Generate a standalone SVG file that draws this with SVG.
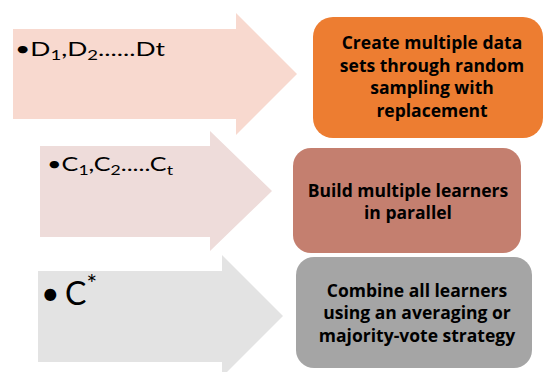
<svg xmlns="http://www.w3.org/2000/svg" width="544" height="372" viewBox="0 0 544 372">
<style>
.lbl{font-family:"Open Sans","Liberation Sans",sans-serif;font-weight:bold;font-size:17.5px;fill:#000;text-anchor:middle}
.bul{font-family:Lato,"Open Sans","Liberation Sans",sans-serif;fill:#000}
</style>
<rect width="544" height="372" fill="#fff"/>
<g id="arrow1">
<polygon points="13,29 236,29 236,13 297,74 236,135 236,119 13,119" fill="#F8D9CF"/>
<text class="bul" x="15" y="56" font-size="20" textLength="150" lengthAdjust="spacingAndGlyphs">•D<tspan font-size="14" dy="4">1</tspan><tspan dy="-4">,D</tspan><tspan font-size="14" dy="4">2</tspan><tspan dy="-4">......Dt</tspan></text>
</g>
<g id="arrow2">
<polygon points="40,146 210,146 210,131 272,191 210,251 210,237 40,237" fill="#EEDCDA"/>
<text class="bul" x="47" y="171" font-size="20" textLength="126" lengthAdjust="spacingAndGlyphs">•C<tspan font-size="14" dy="4">1</tspan><tspan dy="-4">,C</tspan><tspan font-size="14" dy="4">2</tspan><tspan dy="-4">.....C</tspan><tspan font-size="14" dy="4">t</tspan></text>
</g>
<g id="arrow3">
<polygon points="38,271 222,271 222,255 283,316 222,377 222,362 38,362" fill="#E3E3E3"/>
<text class="bul" x="41" y="305" font-size="32">•<tspan x="65">C</tspan><tspan font-size="25" dy="-12">*</tspan></text>
</g>
<g id="box1">
<rect x="313" y="17" width="230" height="121" rx="20" fill="#ED7D31"/>
<text class="lbl" x="432" y="49">Create multiple data</text>
<text class="lbl" x="432" y="72">sets through random</text>
<text class="lbl" x="432" y="94">sampling with</text>
<text class="lbl" x="432" y="117">replacement</text>
</g>
<g id="box2">
<rect x="293" y="148" width="228" height="105" rx="18" fill="#C47F6F"/>
<text class="lbl" x="408" y="197">Build multiple learners</text>
<text class="lbl" x="408" y="219">in parallel</text>
</g>
<g id="box3">
<rect x="296" y="257" width="236" height="111" rx="18" fill="#A5A5A5"/>
<text class="lbl" x="417" y="297">Combine all learners</text>
<text class="lbl" x="417" y="319">using an averaging or</text>
<text class="lbl" x="417" y="342">majority-vote strategy</text>
</g>
</svg>
